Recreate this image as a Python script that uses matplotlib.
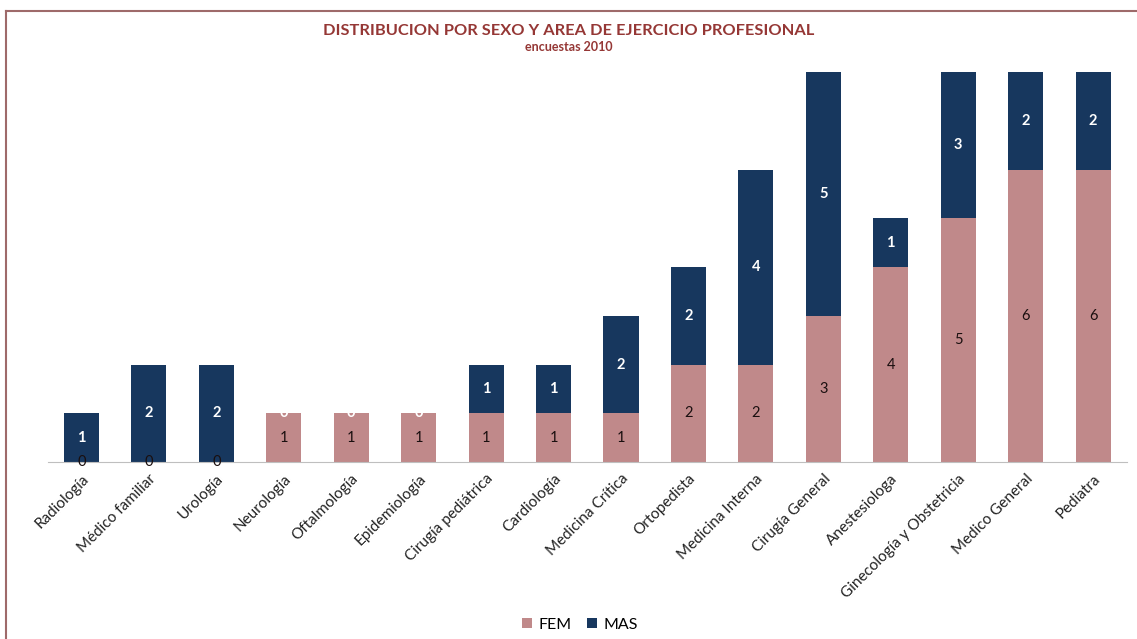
import numpy as np
import matplotlib.pyplot as plt
from matplotlib.lines import Line2D

# Datos
areas = ['Radiología', 'Médico familiar', 'Urología', 'Neurologia', 'Oftalmología',
         'Epidemiología', 'Cirugía pediátrica', 'Cardiología', 'Medicina Crítica',
         'Ortopedista', 'Medicina Interna', 'Cirugía General', 'Anestesiologa',
         'Ginecología y Obstetricia', 'Medico General', 'Pediatra']
fem = [0, 0, 0, 1, 1, 1, 1, 1, 1, 2, 2, 3, 4, 5, 6, 6]
mas = [1, 2, 2, 0, 0, 0, 1, 1, 2, 2, 4, 5, 1, 3, 2, 2]

c_fem = '#C0898A'
c_mas = '#17375E'
c_title = '#953735'

plt.rcParams['font.family'] = ['Lato', 'DejaVu Sans']

fig = plt.figure(figsize=(11.37, 6.39), dpi=100)
ax = fig.add_axes([0.042, 0.277, 0.949, 0.61])

x = np.arange(len(areas))
b1 = ax.bar(x, fem, width=0.52, color=c_fem, label='FEM')
b2 = ax.bar(x, mas, width=0.52, bottom=fem, color=c_mas, label='MAS')

# etiquetas de datos
for i in range(len(areas)):
    ax.text(x[i], fem[i] / 2, str(fem[i]), ha='center', va='center',
            fontsize=10.5, color='#1a0f0f')
    ax.text(x[i], fem[i] + mas[i] / 2, str(mas[i]), ha='center', va='center',
            fontsize=10.5, color='white', fontweight='bold')

ax.set_xlim(-0.5, len(areas) - 0.5)
ax.set_ylim(0, 8)
ax.set_yticks([])
for s in ['top', 'right', 'left']:
    ax.spines[s].set_visible(False)
ax.spines['bottom'].set_color('#bfbfbf')
ax.set_xticks(x)
ax.set_xticklabels(areas, rotation=45, ha='right', rotation_mode='anchor',
                   fontsize=11, color='#222222')
ax.tick_params(axis='x', length=0, pad=7)

fig.text(0.5, 0.952, 'DISTRIBUCION POR SEXO Y AREA DE EJERCICIO PROFESIONAL',
         ha='center', va='center', fontsize=11.8, fontweight='bold', color=c_title)
fig.text(0.5, 0.926, 'encuestas 2010', ha='center', va='center',
         fontsize=9, fontweight='bold', color=c_title)

fig.legend(handles=[b1, b2], labels=['FEM', 'MAS'], loc='center',
           bbox_to_anchor=(0.51, 0.022), ncol=2, frameon=False, fontsize=11.5,
           handlelength=0.6, handleheight=0.6, columnspacing=1.0, handletextpad=0.4)

# borde del área del gráfico
fig.add_artist(Line2D([0.0055, 0.0055], [0.0, 0.983], color='#9E6A6A', lw=1.5))
fig.add_artist(Line2D([0.0055, 1.0], [0.983, 0.983], color='#9E6A6A', lw=1.5))

fig.savefig('out.png', dpi=100)
